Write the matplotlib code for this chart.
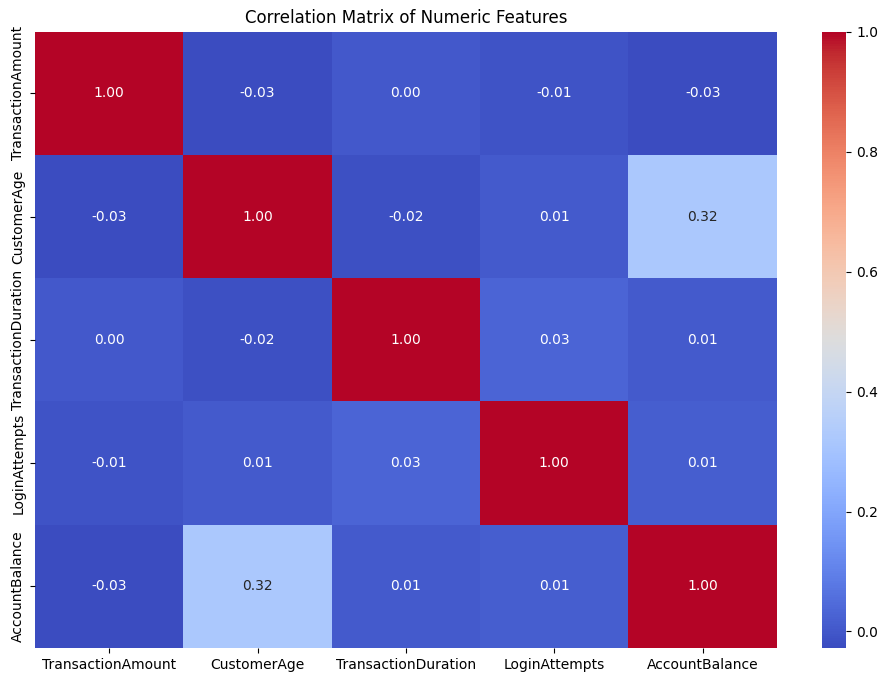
import matplotlib
matplotlib.use("Agg")
import matplotlib.pyplot as plt
import seaborn as sns
import numpy as np
import pandas as pd

features = ["TransactionAmount", "CustomerAge", "TransactionDuration", "LoginAttempts", "AccountBalance"]
row_amount = [1.00, -0.0275, 0.0041, -0.0081, -0.0254]
row_age = [-0.0275, 1.00, -0.0176, 0.0071, 0.3199]
row_duration = [0.0041, -0.0176, 1.00, 0.0325, 0.0053]
row_login = [-0.0081, 0.0071, 0.0325, 1.00, 0.0141]
row_balance = [-0.0254, 0.3199, 0.0053, 0.0141, 1.00]

corr = pd.DataFrame([row_amount, row_age, row_duration, row_login, row_balance],
                    index=features, columns=features)

fig = plt.figure(figsize=(8.96, 6.82), dpi=100)
ax = fig.add_axes([0.039, 0.0499, 0.828, 0.9035])
cax = fig.add_axes([0.9175, 0.0499, 0.027, 0.9035])
sns.heatmap(corr, annot=True, fmt=".2f", cmap="coolwarm", ax=ax, cbar_ax=cax)
ax.set_title("Correlation Matrix of Numeric Features")
fig.savefig("out.png", dpi=100)
